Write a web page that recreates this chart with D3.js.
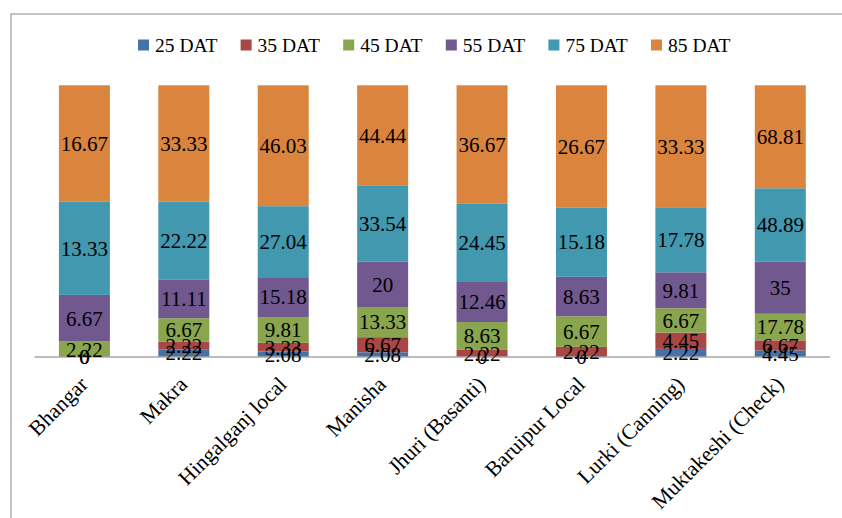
<!DOCTYPE html>
<html>
<head>
<meta charset="utf-8">
<script src="https://cdn.jsdelivr.net/npm/d3@7"></script>
<style>
  body { margin: 0; background: #fff; }
  svg { display: block; font-family: "Liberation Serif", "DejaVu Serif", serif; }
</style>
</head>
<body>
<svg id="chart"></svg>
<script>
const categories = ["Bhangar", "Makra", "Hingalganj local", "Manisha", "Jhuri (Basanti)",
                    "Baruipur Local", "Lurki (Canning)", "Muktakeshi (Check)"];
const seriesNames = ["25 DAT", "35 DAT", "45 DAT", "55 DAT", "75 DAT", "85 DAT"];
const dat25 = [0, 2.22, 2.08, 2.08, 0, 0, 2.22, 4.45];
const dat35 = [0, 2.22, 3.33, 6.67, 2.22, 2.22, 4.45, 6.67];
const dat45 = [2.22, 6.67, 9.81, 13.33, 8.63, 6.67, 6.67, 17.78];
const dat55 = [6.67, 11.11, 15.18, 20, 12.46, 8.63, 9.81, 35];
const dat75 = [13.33, 22.22, 27.04, 33.54, 24.45, 15.18, 17.78, 48.89];
const dat85 = [16.67, 33.33, 46.03, 44.44, 36.67, 26.67, 33.33, 68.81];

function drawChart() {
  const width = 842, height = 518;
  const colors = ["#4572A7", "#AA4643", "#89A54E", "#71588F", "#4198AF", "#DB843D"];
  const seriesValues = [dat25, dat35, dat45, dat55, dat75, dat85];

  const svg = d3.select("#chart")
                .attr("width", width)
                .attr("height", height);

  // outer chart frame (runs off the right and bottom edges)
  svg.append("rect")
     .attr("x", 11).attr("y", 14)
     .attr("width", 900).attr("height", 600)
     .attr("fill", "none")
     .attr("stroke", "#b0b0b0")
     .attr("stroke-width", 1.5);

  const rows = categories.map((c, i) => {
    const row = { category: c };
    seriesNames.forEach((s, j) => { row[s] = seriesValues[j][i]; });
    return row;
  });

  const stacked = d3.stack()
    .keys(seriesNames)
    .offset(d3.stackOffsetExpand)(rows);

  const x = d3.scaleBand()
    .domain(categories)
    .range([34.7, 830])
    .paddingInner(0.487)
    .paddingOuter(0.2435);

  const y = d3.scaleLinear()
    .domain([0, 1])
    .range([357, 85.3]);

  const layers = svg.append("g")
    .selectAll("g")
    .data(stacked)
    .enter()
    .append("g")
    .attr("fill", (d, i) => colors[i]);

  layers.selectAll("rect")
    .data(d => d)
    .enter()
    .append("rect")
    .attr("x", d => x(d.data.category))
    .attr("width", x.bandwidth())
    .attr("y", d => y(d[1]))
    .attr("height", d => y(d[0]) - y(d[1]));

  // axis line
  svg.append("line")
     .attr("x1", 34.7).attr("x2", 830)
     .attr("y1", y(0)).attr("y2", y(0))
     .attr("stroke", "#a6a6a6")
     .attr("stroke-width", 1.5);

  // value labels, centred in each segment
  const labels = svg.append("g")
    .style("font-size", "21px")
    .attr("fill", "#000")
    .attr("text-anchor", "middle");

  stacked.forEach((layer, j) => {
    labels.selectAll(null)
      .data(layer)
      .enter()
      .append("text")
      .attr("x", d => x(d.data.category) + x.bandwidth() / 2)
      .attr("y", d => (y(d[0]) + y(d[1])) / 2)
      .attr("dy", "0.35em")
      .text((d, i) => seriesValues[j][i]);
  });

  // category labels, rotated
  svg.append("g")
    .style("font-size", "21.5px")
    .selectAll("text")
    .data(categories)
    .enter()
    .append("text")
    .attr("text-anchor", "end")
    .attr("transform", d => `translate(${x(d) + x.bandwidth() / 2 - 9}, 372) rotate(-45)`)
    .attr("dy", "0.9em")
    .text(d => d);

  // legend
  const legend = svg.append("g")
    .attr("transform", "translate(138, 45)");

  seriesNames.forEach((name, i) => {
    const item = legend.append("g")
      .attr("transform", `translate(${i * 102.6}, 0)`);

    item.append("rect")
      .attr("y", -5.5)
      .attr("width", 11)
      .attr("height", 11)
      .attr("fill", colors[i]);

    item.append("text")
      .attr("x", 17)
      .attr("y", 7)
      .style("font-size", "19.5px")
      .text(name);
  });
}

drawChart();
</script>
</body>
</html>
